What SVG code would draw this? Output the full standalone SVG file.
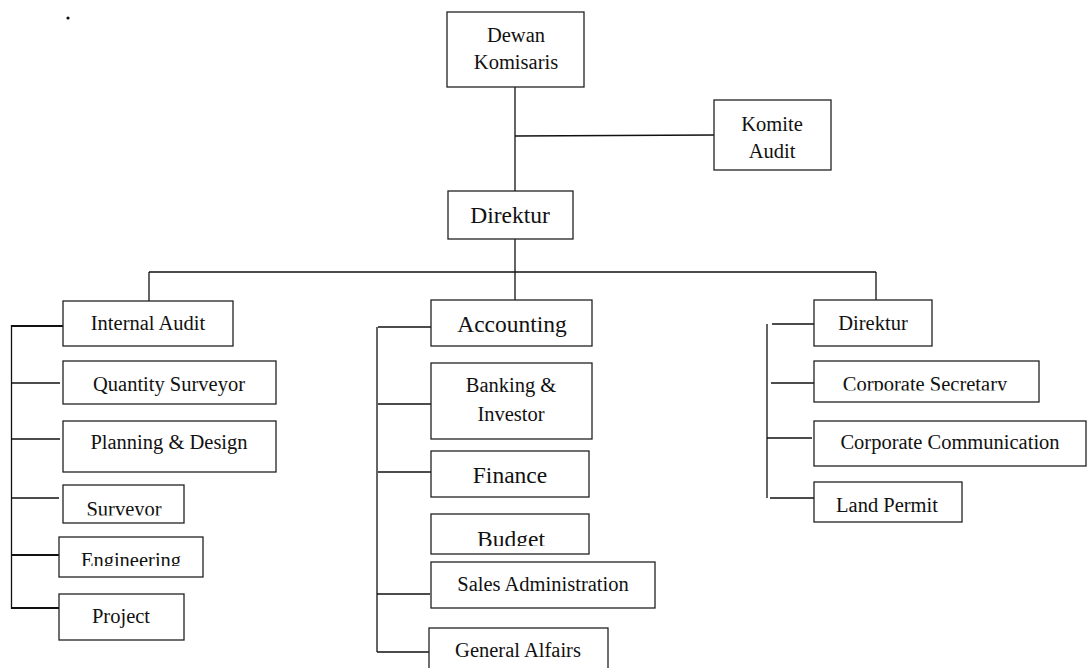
<svg xmlns="http://www.w3.org/2000/svg" width="1087" height="668" viewBox="0 0 1087 668">
  <style>
    .box { fill: #fff; stroke: #222; stroke-width: 1.3; }
    .t { font-family: "Liberation Serif", "Times New Roman", serif; font-size: 20.5px; fill: #111; text-anchor: middle; }
    .tl { font-size: 23.5px; }
    .ln { stroke: #111; stroke-width: 1.3; fill: none; }
    .thk { stroke-width: 2.2; }
  </style>
  <defs>
    <clipPath id="clipSurveyor"><rect x="63" y="485" width="121" height="30.5"/></clipPath>
    <clipPath id="clipEngineering"><rect x="59" y="537" width="144" height="29"/></clipPath>
    <clipPath id="clipBudget"><rect x="431" y="514" width="158" height="32"/></clipPath>
    <clipPath id="clipSecretary"><rect x="814" y="361" width="225" height="29.5"/></clipPath>
  </defs>
  <rect width="1087" height="668" fill="#fff"/>
  <circle cx="68" cy="18" r="1.6" fill="#111"/>

  <g id="connectors">
    <line class="ln" x1="515" y1="87" x2="515" y2="191"/>
    <line class="ln" x1="515" y1="136" x2="714" y2="135"/>
    <line class="ln" x1="515" y1="239" x2="515" y2="272"/>
    <line class="ln" x1="149" y1="272" x2="876" y2="272"/>
    <line class="ln" x1="149" y1="272" x2="149" y2="301"/>
    <line class="ln" x1="515" y1="272" x2="515" y2="300"/>
    <line class="ln" x1="876" y1="272" x2="876" y2="300"/>
    <!-- left column -->
    <line class="ln" x1="11.5" y1="325" x2="11.5" y2="609"/>
    <line class="ln thk" x1="11" y1="326" x2="63" y2="326"/>
    <line class="ln" x1="11.5" y1="383" x2="60" y2="383"/>
    <line class="ln" x1="11.5" y1="439" x2="60" y2="439"/>
    <line class="ln" x1="11.5" y1="498" x2="59" y2="498"/>
    <line class="ln thk" x1="11.5" y1="555" x2="59" y2="555"/>
    <line class="ln thk" x1="11" y1="608" x2="59" y2="608"/>
    <!-- middle column -->
    <line class="ln" x1="377" y1="327" x2="377" y2="652"/>
    <line class="ln" x1="378" y1="327" x2="431" y2="327"/>
    <line class="ln" x1="378" y1="404" x2="431" y2="404"/>
    <line class="ln" x1="378" y1="472" x2="431" y2="472"/>
    <line class="ln" x1="377" y1="594" x2="430" y2="594"/>
    <line class="ln" x1="377" y1="652" x2="429" y2="652"/>
    <!-- right column -->
    <line class="ln" x1="767" y1="324" x2="767" y2="498"/>
    <line class="ln" x1="772" y1="324" x2="814" y2="324"/>
    <line class="ln" x1="771" y1="383" x2="814" y2="383"/>
    <line class="ln" x1="767" y1="438" x2="812" y2="438"/>
    <line class="ln" x1="770" y1="498" x2="814" y2="498"/>
  </g>

  <g id="dewan-komisaris">
    <rect class="box" x="447" y="12" width="137" height="75"/>
    <text class="t" x="516" y="42">Dewan</text>
    <text class="t" x="516" y="69">Komisaris</text>
  </g>
  <g id="komite-audit">
    <rect class="box" x="714" y="100" width="117" height="70"/>
    <text class="t" x="772" y="131">Komite</text>
    <text class="t" x="772" y="158">Audit</text>
  </g>
  <g id="direktur">
    <rect class="box" x="448" y="191" width="125" height="48"/>
    <text class="t tl" x="510" y="223">Direktur</text>
  </g>

  <g id="internal-audit">
    <rect class="box" x="63" y="301" width="170" height="45"/>
    <text class="t" x="148" y="330">Internal Audit</text>
  </g>
  <g id="quantity-surveyor">
    <rect class="box" x="63" y="361" width="213" height="43"/>
    <text class="t" x="169" y="391">Quantity Surveyor</text>
  </g>
  <g id="planning-design">
    <rect class="box" x="63" y="421" width="213" height="51"/>
    <text class="t" x="169" y="449">Planning &amp; Design</text>
  </g>
  <g id="surveyor">
    <rect class="box" x="63" y="485" width="121" height="38"/>
    <text class="t" x="124" y="516" clip-path="url(#clipSurveyor)">Surveyor</text>
  </g>
  <g id="engineering">
    <rect class="box" x="59" y="537" width="144" height="40"/>
    <text class="t" x="131" y="566.5" clip-path="url(#clipEngineering)">Engineering</text>
  </g>
  <g id="project">
    <rect class="box" x="59" y="594" width="125" height="46"/>
    <text class="t" x="121" y="623">Project</text>
  </g>

  <g id="accounting">
    <rect class="box" x="431" y="300" width="161" height="46"/>
    <text class="t tl" x="512" y="332">Accounting</text>
  </g>
  <g id="banking-investor">
    <rect class="box" x="431" y="363" width="161" height="76"/>
    <text class="t" x="511" y="392">Banking &amp;</text>
    <text class="t" x="511" y="421">Investor</text>
  </g>
  <g id="finance">
    <rect class="box" x="431" y="451" width="158" height="46"/>
    <text class="t tl" x="510" y="483">Finance</text>
  </g>
  <g id="budget">
    <rect class="box" x="431" y="514" width="158" height="40"/>
    <text class="t tl" x="511" y="546.5" clip-path="url(#clipBudget)">Budget</text>
  </g>
  <g id="sales-administration">
    <rect class="box" x="431" y="562" width="224" height="46"/>
    <text class="t" x="543" y="591">Sales Administration</text>
  </g>
  <g id="general-affairs">
    <rect class="box" x="429" y="628" width="179" height="50"/>
    <text class="t" x="518" y="657">General Alfairs</text>
  </g>

  <g id="direktur-2">
    <rect class="box" x="814" y="300" width="118" height="46"/>
    <text class="t" x="873" y="330">Direktur</text>
  </g>
  <g id="corporate-secretary">
    <rect class="box" x="814" y="361" width="225" height="41"/>
    <text class="t" x="925" y="390.5" clip-path="url(#clipSecretary)">Corporate Secretary</text>
  </g>
  <g id="corporate-communication">
    <rect class="box" x="814" y="421" width="272" height="45"/>
    <text class="t" x="950" y="449">Corporate Communication</text>
  </g>
  <g id="land-permit">
    <rect class="box" x="814" y="482" width="148" height="40"/>
    <text class="t" x="887" y="512">Land Permit</text>
  </g>
</svg>
